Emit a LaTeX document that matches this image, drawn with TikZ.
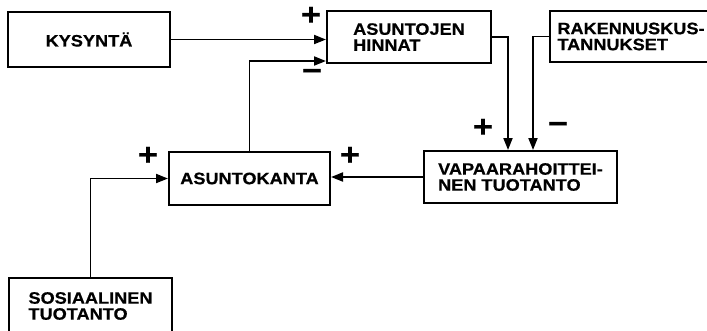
\documentclass[tikz,border=0pt]{standalone}
\usepackage{fontspec}
\setmainfont{Liberation Sans}[FakeStretch=1.1, BoldFeatures={FakeBold=0.6}]
\usetikzlibrary{arrows.meta}
\begin{document}
\begin{tikzpicture}[x=1pt,y=-1pt,
  box/.style={draw, line width=2pt, inner sep=0pt, align=left,
    font=\fontsize{16.5}{16}\selectfont\bfseries},
  arr/.style={line width=1.8pt, -{Triangle[length=12pt,width=9pt]}},
  sgn/.style={inner sep=0pt, font=\fontsize{31}{31}\selectfont\bfseries}]
\useasboundingbox (0,0) rectangle (707,330);
\node[box, minimum width=162pt, minimum height=55pt] (kys) at (89,39.5) {KYSYNTÄ};
\node[box, minimum width=164pt, minimum height=52pt] (hin) at (409,37) {ASUNTOJEN\\HINNAT};
\node[box, minimum width=162pt, minimum height=51pt] (rak) at (631,36.5) {RAKENNUSKUS-\\TANNUKSET};
\node[box, minimum width=193pt, minimum height=52pt] (vap) at (520.5,177) {VAPAARAHOITTEI-\\NEN TUOTANTO};
\node[box, minimum width=161pt, minimum height=53pt] (kan) at (249.5,178.5) {ASUNTOKANTA};
\node[box, minimum width=163pt, minimum height=56pt] (sos) at (90.5,306) {SOSIAALINEN\\TUOTANTO};
\draw[arr] (kys.east) -- (kys.east -| hin.west);
\draw[arr] (kan.north) |- ([yshift=3pt]hin.south west);
\draw[arr] (hin.east) -| ([xshift=-12.5pt]vap.north);
\draw[arr] (rak.west) -| ([xshift=12.5pt]vap.north);
\draw[arr] (vap.west) -- (vap.west -| kan.east);
\draw[arr] (sos.north) |- (kan.west);
\node[sgn] (s1) at (311,16) {+};
\node[sgn] (s2) at (312,75) {−};
\node[sgn] (s3) at (483,128) {+};
\node[sgn] (s4) at (558,128) {−};
\node[sgn] (s5) at (350,156) {+};
\node[sgn] (s6) at (148,156) {+};
\end{tikzpicture}
\end{document}
